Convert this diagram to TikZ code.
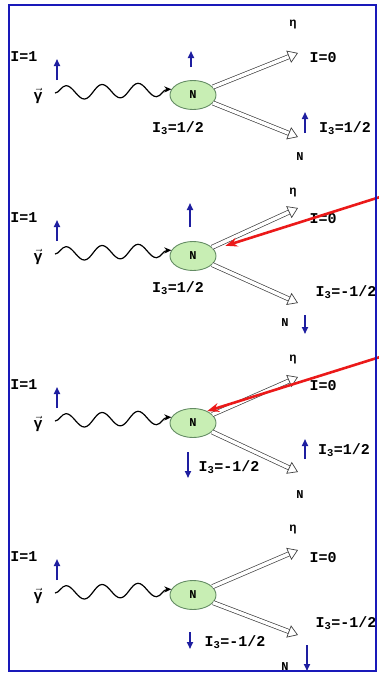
\documentclass[tikz,border=0pt]{standalone}
\usepackage{fontspec}
\newfontfamily\labelfont{Liberation Mono}
\usetikzlibrary{arrows.meta,decorations.pathmorphing,shapes.geometric}
\definecolor{framebl}{RGB}{25,25,185}
\definecolor{spinbl}{RGB}{30,30,160}
\definecolor{nucfill}{RGB}{200,238,180}
\definecolor{nucdraw}{RGB}{100,140,100}
\definecolor{hitred}{RGB}{235,25,25}
\tikzset{
  lbl/.style={font=\labelfont\bfseries\fontsize{15}{17}\selectfont, inner sep=0pt},
  small lbl/.style={font=\labelfont\bfseries\fontsize{12}{14}\selectfont, inner sep=0pt},
  spin/.style={-{Triangle[length=7pt,width=6pt]}, line width=1.6pt, spinbl},
  nuc/.style={ellipse, draw=nucdraw, fill=nucfill, line width=0.9pt, minimum width=46pt, minimum height=29pt, inner sep=0pt, font=\labelfont\bfseries\fontsize{12}{14}\selectfont},
  photon/.style={decorate, decoration={snake, amplitude=7pt, segment length=36pt, post length=3pt}, line width=1.2pt, -{Stealth[length=7pt,width=6pt]}},
  hollow/.style={line width=0.7pt, draw=black!75, double=white, double distance=3.5pt, -{Triangle[open,length=10pt,width=13pt]}},
  hit/.style={hitred, line width=2.6pt, -{Stealth[length=12pt,width=9pt]}},
}
\begin{document}
\begin{tikzpicture}[x=1pt,y=-1pt]
  \useasboundingbox (0,0) rectangle (378,675);
  % the four panels share photon, nucleon and the two outgoing lines
  \foreach \i/\y/\ea/\eb/\el in {1/95/-42/42/-70, 2/256/-48/47/-63, 3/423/-46/49/-63, 4/595/-45/40/-65}{
    \node[nuc] (n\i) at (193,\y) {N};
    \node[lbl] (iso\i) at (24,\y-38) {I=1};
    \draw[spin] (57,\y-15) -- (57,\y-36);
    \node[lbl] (gam\i) at (38,\y+1) {$\vec{\hbox{γ}}$};
    \coordinate (w\i) at (55,\y-2);
    \draw[photon] (w\i) -- (n\i.165);
    \coordinate (ta\i) at (298,\y+\ea);
    \coordinate (tb\i) at (298,\y+\eb);
    \draw[hollow] (n\i) -- (ta\i);
    \draw[hollow] (n\i) -- (tb\i);
    \node[small lbl] (eta\i) at (293,\y+\el) {η};
    \node[lbl] (izero\i) at (323,\y-37) {I=0};
  }
  % panel 1
  \draw[spin] (191,67) -- (191,51);
  \node[lbl] (iza1) at (178,128) {I\textsubscript{3}=1/2};
  \draw[spin] (305,133) -- (305,112);
  \node[lbl] (izb1) at (345,128) {I\textsubscript{3}=1/2};
  \node[small lbl] (nout1) at (300,157) {N};
  % panel 2
  \draw[spin] (190,227) -- (190,203);
  \node[lbl] (iza2) at (178,288) {I\textsubscript{3}=1/2};
  \node[lbl] (izb2) at (346,292) {I\textsubscript{3}=-1/2};
  \draw[spin] (305,315) -- (305,334);
  \node[small lbl] (nout2) at (285,323) {N};
  % panel 3
  \draw[spin] (188,452) -- (188,478);
  \node[lbl] (iza3) at (229,467) {I\textsubscript{3}=-1/2};
  \draw[spin] (305,459) -- (305,439);
  \node[lbl] (izb3) at (344,450) {I\textsubscript{3}=1/2};
  \node[small lbl] (nout3) at (300,495) {N};
  % panel 4
  \draw[spin] (190,632) -- (190,649);
  \node[lbl] (iza4) at (235,642) {I\textsubscript{3}=-1/2};
  \node[lbl] (izb4) at (346,623) {I\textsubscript{3}=-1/2};
  \draw[spin] (307,645) -- (307,671);
  \node[small lbl] (nout4) at (285,667) {N};
  % red pointers
  \coordinate (src2) at (380,197);
  \coordinate (src3) at (380,357);
  \draw[hit, shorten >=12pt] (src2) -- (n2);
  \draw[hit] (src3) -- (n3.40);
  \draw[framebl, line width=2.5pt] (9,5) rectangle (376,671);
\end{tikzpicture}
\end{document}
